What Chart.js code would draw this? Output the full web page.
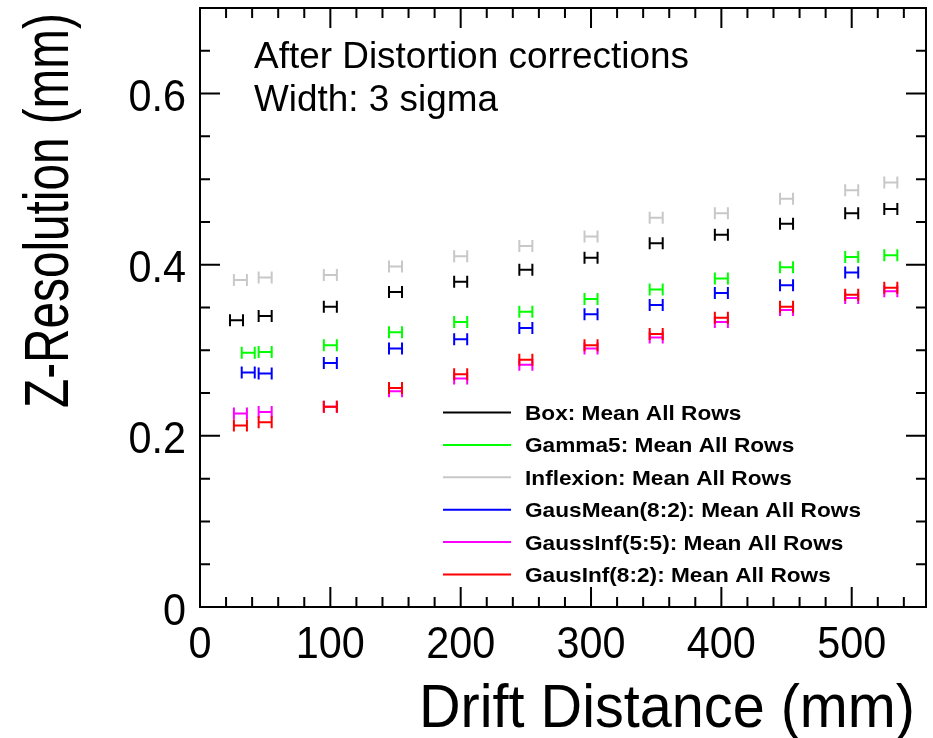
<!DOCTYPE html>
<html>
<head>
<meta charset="utf-8">
<script src="https://cdn.jsdelivr.net/npm/chart.js@4"></script>
<style>
  html, body { margin: 0; padding: 0; background: #fff; }
  canvas { display: block; }
</style>
</head>
<body>
<canvas id="resChart" width="933" height="738"></canvas>
<script>
// Drift distance bins (mm) and per-series first-bin x (slightly shifted in the plot)
const driftDistance = [30, 50, 100, 150, 200, 250, 300, 350, 400, 450, 500, 530];
const firstBinX = [28, 37, 31, 37, 31, 31];
const xError = 5;

// Z resolution (mm) per method
const boxRes = [0.335, 0.340, 0.351, 0.368, 0.380, 0.394, 0.408, 0.425, 0.435, 0.448, 0.460, 0.465];
const gamma5Res = [0.297, 0.298, 0.306, 0.321, 0.333, 0.345, 0.360, 0.371, 0.384, 0.397, 0.409, 0.411];
const inflexionRes = [0.382, 0.385, 0.388, 0.398, 0.410, 0.422, 0.433, 0.455, 0.460, 0.477, 0.487, 0.496];
const gausMeanRes = [0.274, 0.273, 0.285, 0.302, 0.313, 0.326, 0.342, 0.353, 0.367, 0.376, 0.391, null];
const gaussInf55Res = [0.226, 0.228, 0.234, 0.252, 0.267, 0.283, 0.302, 0.315, 0.333, 0.347, 0.361, 0.369];
const gausInf82Res = [0.212, 0.216, 0.234, 0.256, 0.272, 0.289, 0.306, 0.319, 0.338, 0.351, 0.365, 0.373];

const seriesLabels = [
  'Box: Mean All Rows',
  'Gamma5: Mean All Rows',
  'Inflexion: Mean All Rows',
  'GausMean(8:2): Mean All Rows',
  'GaussInf(5:5): Mean All Rows',
  'GausInf(8:2): Mean All Rows'
];
const seriesColors = ['#000000', '#00ff00', '#c8c8c8', '#0000ff', '#ff00ff', '#ff0000'];
const seriesValues = [boxRes, gamma5Res, inflexionRes, gausMeanRes, gaussInf55Res, gausInf82Res];

const xTickLabels = ['0', '100', '200', '300', '400', '500'];
const yTickLabels = ['0', '0.2', '0.4', '0.6'];

const FONT = '"Liberation Sans", Arial, Helvetica, sans-serif';

function fitText(ctx, text, x, y, size, width, align, bold) {
  ctx.save();
  ctx.font = (bold ? 'bold ' : '') + size + 'px ' + FONT;
  const natural = ctx.measureText(text).width;
  const sx = width ? width / natural : 1;
  ctx.translate(x, y);
  ctx.scale(sx, 1);
  ctx.textAlign = align;
  ctx.textBaseline = 'alphabetic';
  ctx.fillText(text, 0, 0);
  ctx.restore();
}

const datasets = seriesValues.map((vals, i) => ({
  label: seriesLabels[i],
  data: vals.map((v, j) => v === null ? null : { x: j === 0 ? firstBinX[i] : driftDistance[j], y: v })
    .filter(p => p !== null),
  borderColor: seriesColors[i],
  backgroundColor: seriesColors[i],
  pointRadius: 0,
  showLine: false
}));

// draws "H" shaped x-error bars with end caps
const errorBars = {
  id: 'errorBars',
  afterDatasetsDraw(chart) {
    const ctx = chart.ctx;
    const xs = chart.scales.x;
    chart.data.datasets.forEach((ds, i) => {
      const meta = chart.getDatasetMeta(i);
      ctx.save();
      ctx.strokeStyle = ds.borderColor;
      ctx.lineWidth = 2;
      meta.data.forEach((pt, j) => {
        const raw = ds.data[j];
        const x1 = xs.getPixelForValue(raw.x - xError);
        const x2 = xs.getPixelForValue(raw.x + xError);
        const y = pt.y;
        ctx.beginPath();
        ctx.moveTo(x1, y); ctx.lineTo(x2, y);
        ctx.moveTo(x1, y - 6); ctx.lineTo(x1, y + 6);
        ctx.moveTo(x2, y - 6); ctx.lineTo(x2, y + 6);
        ctx.stroke();
      });
      ctx.restore();
    });
  }
};

// frame, inward ticks, labels, titles, legend
const frameAxes = {
  id: 'frameAxes',
  afterDraw(chart) {
    const ctx = chart.ctx;
    const a = chart.chartArea;
    const xs = chart.scales.x, ys = chart.scales.y;
    ctx.save();
    ctx.strokeStyle = '#000';
    ctx.lineWidth = 2;
    ctx.strokeRect(a.left, a.top, a.right - a.left, a.bottom - a.top);

    ctx.beginPath();
    for (let v = 0; v <= xs.max + 0.01; v += 20) {
      const px = xs.getPixelForValue(v);
      const len = (v % 100 === 0) ? 20 : 10;
      ctx.moveTo(px, a.bottom); ctx.lineTo(px, a.bottom - len);
      ctx.moveTo(px, a.top); ctx.lineTo(px, a.top + len);
    }
    for (let k = 0; k * 0.05 <= ys.max + 1e-6; k++) {
      const py = ys.getPixelForValue(k * 0.05);
      const len = (k % 4 === 0) ? 20 : 10;
      ctx.moveTo(a.left, py); ctx.lineTo(a.left + len, py);
      ctx.moveTo(a.right, py); ctx.lineTo(a.right - len, py);
    }
    ctx.stroke();

    ctx.fillStyle = '#000';
    xTickLabels.forEach(t => {
      const px = xs.getPixelForValue(parseFloat(t));
      ctx.font = '44px ' + FONT;
      const w = ctx.measureText(t).width * 0.94;
      fitText(ctx, t, px, a.bottom + 51, 44, w, 'center', false);
    });
    yTickLabels.forEach(t => {
      const py = ys.getPixelForValue(parseFloat(t));
      ctx.font = '44px ' + FONT;
      const w = ctx.measureText(t).width * 0.94;
      fitText(ctx, t, a.left - 14, py + 17.5, 44, w, 'right', false);
    });

    // axis titles
    fitText(ctx, 'Drift Distance (mm)', 915, 727, 61, 496, 'right', false);
    ctx.save();
    ctx.translate(68, 13);
    ctx.rotate(-Math.PI / 2);
    fitText(ctx, 'Z-Resolution (mm)', 0, 0, 63, 395, 'right', false);
    ctx.restore();

    // annotation
    fitText(ctx, 'After Distortion corrections', 254, 68, 36, 435, 'left', false);
    fitText(ctx, 'Width: 3 sigma', 254, 111, 36, 244, 'left', false);

    // legend
    ctx.font = 'bold 21px ' + FONT;
    const legScale = 336 / ctx.measureText(seriesLabels[3]).width;
    seriesLabels.forEach((lab, i) => {
      const ry = 412.5 + i * 32.4;
      ctx.strokeStyle = seriesColors[i];
      ctx.lineWidth = 2;
      ctx.beginPath();
      ctx.moveTo(443, ry); ctx.lineTo(511, ry);
      ctx.stroke();
      ctx.font = 'bold 21px ' + FONT;
      const w = ctx.measureText(lab).width * legScale;
      fitText(ctx, lab, 525, ry + 7.5, 21, w, 'left', true);
    });
    ctx.restore();
  }
};

new Chart(document.getElementById('resChart').getContext('2d'), {
  type: 'scatter',
  data: { datasets: datasets },
  options: {
    responsive: false,
    animation: false,
    devicePixelRatio: 1,
    layout: { padding: { left: 200, right: 7, top: 8, bottom: 131 } },
    plugins: {
      legend: { display: false },
      tooltip: { enabled: false }
    },
    scales: {
      x: { type: 'linear', min: 0, max: 557, display: false },
      y: { type: 'linear', min: 0, max: 0.7, display: false }
    }
  },
  plugins: [errorBars, frameAxes]
});
</script>
</body>
</html>
